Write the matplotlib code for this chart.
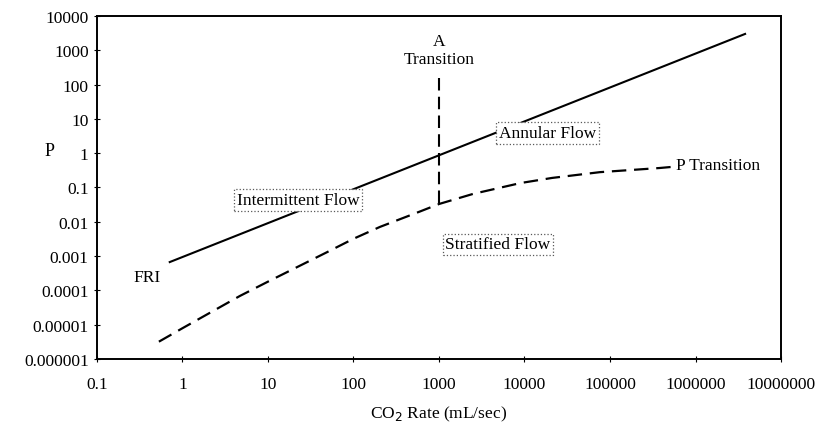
import matplotlib
matplotlib.use('Agg')
import matplotlib.pyplot as plt

plt.rcParams['font.family'] = ['Liberation Serif', 'DejaVu Serif']

# FRI boundary (solid line)
fri_x = [0.71, 3.8e6]
fri_p = [6.7e-4, 3000]

# P transition (dashed curve)
ptr_x = [0.53, 1, 4.7, 10, 49, 100, 204, 600, 1000, 2500, 9000, 21000, 76000, 380000, 540000]
ptr_p = [3.2e-6, 7.9e-6, 6.9e-5, 1.8e-4, 1.3e-3, 3.2e-3, 7.1e-3, 2.0e-2, 3.3e-2,
         6.5e-2, 0.135, 0.19, 0.28, 0.37, 0.40]

# A transition (vertical dashed line)
atr_x = [1000, 1000]
atr_p = [0.035, 200]

xticks = [0.1, 1, 10, 100, 1000, 10000, 100000, 1000000, 10000000]
xlabels = ['0.1', '1', '10', '100', '1000', '10000', '100000', '1000000', '10000000']
yticks = [1e-6, 1e-5, 1e-4, 1e-3, 1e-2, 0.1, 1, 10, 100, 1000, 10000]
ylabels = ['0.000001', '0.00001', '0.0001', '0.001', '0.01', '0.1', '1', '10', '100', '1000', '10000']

fs = 12.5

fig = plt.figure(figsize=(8.21, 4.27), dpi=100)
ax = fig.add_axes([0.1181, 0.1569, 0.8332, 0.8033])

ax.plot(fri_x, fri_p, color='black', lw=1.5)
ax.plot(ptr_x, ptr_p, color='black', lw=1.6, dashes=(6.5, 3.5))
ax.plot(atr_x, atr_p, color='black', lw=1.5, dashes=(6, 3))

ax.set_xscale('log')
ax.set_yscale('log')
ax.set_xlim(0.1, 1e7)
ax.set_ylim(1e-6, 1e4)
ax.set_xticks(xticks)
ax.set_xticklabels(xlabels)
ax.set_yticks(yticks)
ax.set_yticklabels(ylabels)
ax.minorticks_off()
ax.tick_params(direction='inout', length=4, width=0.8, labelsize=fs)
ax.tick_params(axis='x', pad=10)
ax.tick_params(axis='y', pad=4)
for s in ax.spines.values():
    s.set_linewidth(1.4)

ax.set_xlabel('CO$_2$ Rate (mL/sec)', fontsize=fs, labelpad=9)
fig.text(50 / 821, 1 - 152 / 427, 'P', fontsize=13, ha='center', va='center')

box = dict(boxstyle='square,pad=0.15', fc='white', ec='0.35', ls=':', lw=0.9)
ax.text(22.4, 0.043, 'Intermittent Flow', fontsize=fs, ha='center', va='center', bbox=box)
ax.text(18600, 3.9, 'Annular Flow', fontsize=fs, ha='center', va='center', bbox=box)
ax.text(4900, 0.0022, 'Stratified Flow', fontsize=fs, ha='center', va='center', bbox=box)
ax.text(0.385, 2.5e-4, 'FRI', fontsize=fs, ha='center', va='center')
ax.text(5.9e5, 0.45, 'P Transition', fontsize=fs, ha='left', va='center')
ax.text(1000, 1850, 'A', fontsize=fs, ha='center', va='center')
ax.text(1000, 560, 'Transition', fontsize=fs, ha='center', va='center')

fig.savefig('out.png', dpi=100)
